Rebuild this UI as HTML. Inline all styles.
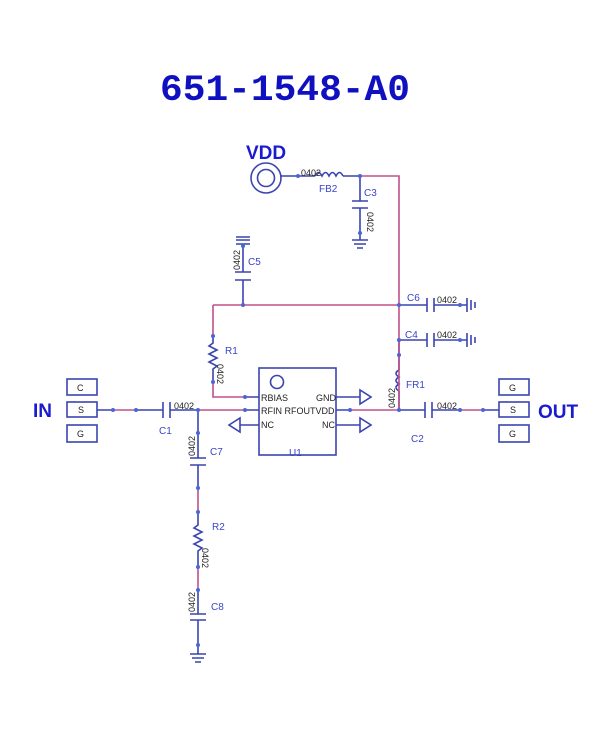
<!DOCTYPE html>
<html><head><style>html,body{margin:0;padding:0;background:#fff}svg{display:block}</style></head><body>
<svg width="612" height="738" viewBox="0 0 612 738" xmlns="http://www.w3.org/2000/svg" font-family="Liberation Sans, sans-serif">
<g stroke="#3a44b0" stroke-width="1.6" fill="none">
<!-- title area -->
<!-- VDD source -->
<circle cx="266" cy="178" r="15"/><circle cx="266" cy="178" r="8.5"/>
<path d="M281 176H315"/>
<path d="M315 176 q3.5 -7 7 0 q3.5 -7 7 0 q3.5 -7 7 0 q3.5 -7 7 0"/>
<path d="M343 176H360"/>
<!-- C3 -->
<path d="M360 176V201M352 201H368M352 208H368M360 208V240M352 240H368M354 244H366M357 248H363"/>
<!-- C5 -->
<path d="M236 237H250M236 240H250M236 244H250"/>
<path d="M243 244V272M235 272H251M235 280H251M243 280V305"/>
<!-- R1 -->
<path d="M213 336V343l-4 3 8 4-8 4 8 4-8 4 8 4-4 3V383"/>
<!-- C6 -->
<path d="M399 305H427M427 298V312M434 298V312M434 305H467M467 298V312M471 300V310M475 302V308"/>
<!-- C4 -->
<path d="M399 340H427M427 333V347M434 333V347M434 340H467M467 333V347M471 335V345M475 337V343"/>
<!-- FR1 -->
<path d="M399 340V370"/>
<path d="M399 370 q-6 3.5 0 7 q-6 3.5 0 7 q-6 3.5 0 7"/>
<path d="M399 391V410"/>
<!-- IN boxes -->
<rect x="67" y="379" width="30" height="16"/><rect x="67" y="402" width="30" height="15"/><rect x="67" y="425" width="30" height="17"/>
<rect x="499" y="379" width="30" height="16"/><rect x="499" y="402" width="30" height="15"/><rect x="499" y="425" width="30" height="17"/>
<!-- main line -->
<path d="M97 410H113M136 410H163M163 402V418M170 402V418M170 410H198M245 410H259M336 410H350M399 410H425M425 402V418M432 402V418M432 410H460M483 410H499"/>
<!-- U1 -->
<rect x="259" y="368" width="77" height="87"/>
<circle cx="277" cy="382" r="6.5"/>
<path d="M245 397H259M240 425H259M229 425l11 -7v14z"/>
<path d="M336 397H360M360 390v14l11 -7z"/>
<path d="M336 425H360M360 418v14l11 -7z"/>
<!-- C7/R2/C8 -->
<path d="M198 410V458M190 458H206M190 465H206M198 465V488M198 512V525l-4 3 8 4-8 4 8 4-8 4 8 4-4 3V567M198 590V614M190 614H206M190 620H206M198 620V654M190 654H206M192 658H204M195 662H201"/>
</g>
<g stroke="#c0508a" stroke-width="1.6" fill="none">
<path d="M360 176H399V410M213 305H399M213 305V336M213 383V397H245M113 410H136M198 410H245M350 410H399M460 410H483M198 488V512M198 567V590"/>
</g>
<g fill="#4a66d8">
<circle cx="298" cy="176" r="2"/><circle cx="360" cy="176" r="2"/><circle cx="360" cy="233" r="2"/><circle cx="243" cy="246" r="2"/><circle cx="243" cy="305" r="2"/><circle cx="399" cy="305" r="2"/><circle cx="399" cy="340" r="2"/><circle cx="399" cy="355" r="2"/><circle cx="213" cy="336" r="2"/><circle cx="213" cy="382" r="2"/><circle cx="245" cy="397" r="2"/><circle cx="245" cy="410" r="2"/><circle cx="113" cy="410" r="2"/><circle cx="136" cy="410" r="2"/><circle cx="198" cy="410" r="2"/><circle cx="198" cy="433" r="2"/><circle cx="350" cy="410" r="2"/><circle cx="399" cy="410" r="2"/><circle cx="460" cy="410" r="2"/><circle cx="483" cy="410" r="2"/><circle cx="198" cy="488" r="2"/><circle cx="198" cy="512" r="2"/><circle cx="198" cy="567" r="2"/><circle cx="198" cy="590" r="2"/><circle cx="198" cy="645" r="2"/><circle cx="460" cy="305" r="2"/><circle cx="460" cy="340" r="2"/>
</g>
<text x="160" y="100" font-family="Liberation Mono, monospace" font-weight="bold" font-size="37" fill="#1010c0" textLength="250" lengthAdjust="spacingAndGlyphs">651-1548-A0</text>
<g fill="#1a1ad0" font-weight="bold">
<text x="246" y="159" font-size="19">VDD</text>
<text x="33" y="417" font-size="19">IN</text>
<text x="538" y="418" font-size="19">OUT</text>
</g>
<g fill="#3a44c8" font-size="10">
<text x="319" y="192">FB2</text><text x="364" y="196">C3</text><text x="248" y="265">C5</text>
<text x="407" y="301">C6</text><text x="405" y="338">C4</text><text x="225" y="354">R1</text>
<text x="406" y="388">FR1</text><text x="159" y="434">C1</text><text x="411" y="442">C2</text>
<text x="210" y="455">C7</text><text x="212" y="530">R2</text><text x="211" y="610">C8</text>
<text x="289" y="456">U1</text>
</g>
<g fill="#222" font-size="9">
<text x="301" y="176">0402</text><text x="174" y="409">0402</text>
<text x="437" y="303">0402</text><text x="437" y="338">0402</text><text x="437" y="409">0402</text>
<text x="261" y="401">RBIAS</text><text x="261" y="414">RFIN RFOUTVDD</text><text x="261" y="428">NC</text>
<text x="316" y="401">GND</text><text x="322" y="428">NC</text>
<text transform="translate(367,212) rotate(90)">0402</text>
<text transform="translate(240,270) rotate(-90)">0402</text>
<text transform="translate(217,364) rotate(90)">0402</text>
<text transform="translate(395,408) rotate(-90)">0402</text>
<text transform="translate(195,456) rotate(-90)">0402</text>
<text transform="translate(202,548) rotate(90)">0402</text>
<text transform="translate(195,612) rotate(-90)">0402</text>
<text x="77" y="391" font-size="9">C</text><text x="78" y="413">S</text><text x="77" y="437">G</text>
<text x="509" y="391">G</text><text x="510" y="413">S</text><text x="509" y="437">G</text>
</g>
</svg>
</body></html>
